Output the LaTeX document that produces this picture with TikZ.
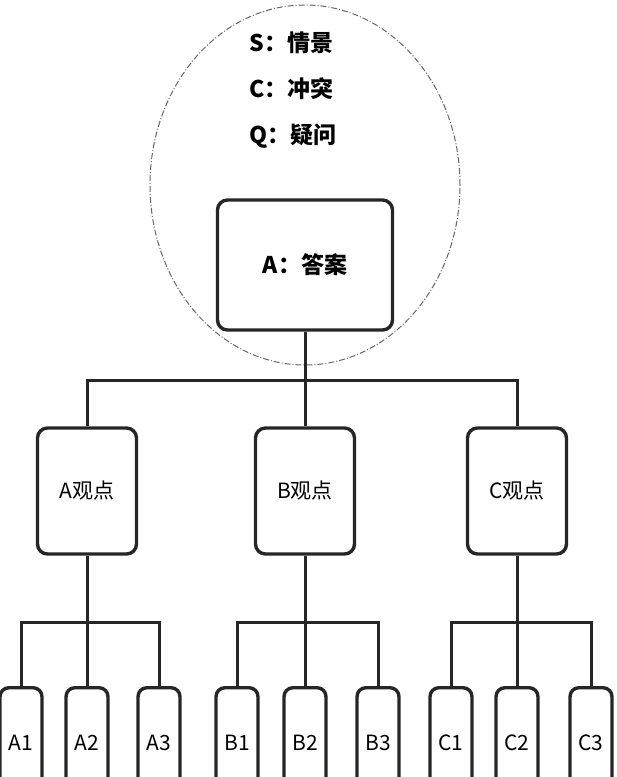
\documentclass[tikz,border=0pt]{standalone}
\usepackage{fontspec}
\setmainfont{Noto Sans CJK SC}
\begin{document}
\begin{tikzpicture}[x=1pt,y=-1pt,
  box/.style={draw=black!85,line width=3.4pt,rounded corners=10pt,minimum width=99pt,minimum height=126pt,font=\fontsize{21}{24}\selectfont},
  leaf/.style={draw=black!85,line width=3.4pt,rounded corners=9pt,minimum width=42pt,minimum height=110pt,anchor=north,font=\fontsize{21}{24}\selectfont},
  wire/.style={draw=black!85,line width=3pt}]
  \useasboundingbox (0,0) rectangle (617,777);
  \draw[black!60,line width=1pt,dash pattern=on 6pt off 2pt on 1pt off 2pt] (305,185) ellipse [x radius=155pt,y radius=180pt];
  \node[font=\bfseries\fontsize{23}{46}\selectfont,align=left] (scq) at (293,90) {S：情景\\C：冲突\\Q：疑问};
  \node[box,minimum width=175pt,minimum height=130pt,font=\bfseries\fontsize{23}{26}\selectfont] (ans) at (305,265) {A：答案};
  \node[box] (pa) at (87,491) {A观点};
  \node[box] (pb) at (305,491) {B观点};
  \node[box] (pc) at (517,491) {C观点};
  \coordinate (top) at (305,380);
  \draw[wire] (ans.south) -- (top);
  \draw[wire] (pa.north) |- (top) -| (pc.north);
  \draw[wire] (top) -- (pb.north);
  \foreach \g/\p/\xa/\xb/\xc in {A/pa/21/87/159, B/pb/237/305/378, C/pc/451/517/591} {
    \node[leaf] (\g1) at (\xa,686) {\g1};
    \node[leaf] (\g2) at (\xb,686) {\g2};
    \node[leaf] (\g3) at (\xc,686) {\g3};
    \coordinate (\g j) at (\xb,622);
    \draw[wire] (\p.south) -- (\g j);
    \draw[wire] (\g1.north) |- (\g j) -| (\g3.north);
    \draw[wire] (\g j) -- (\g2.north);
  }
\end{tikzpicture}
\end{document}
